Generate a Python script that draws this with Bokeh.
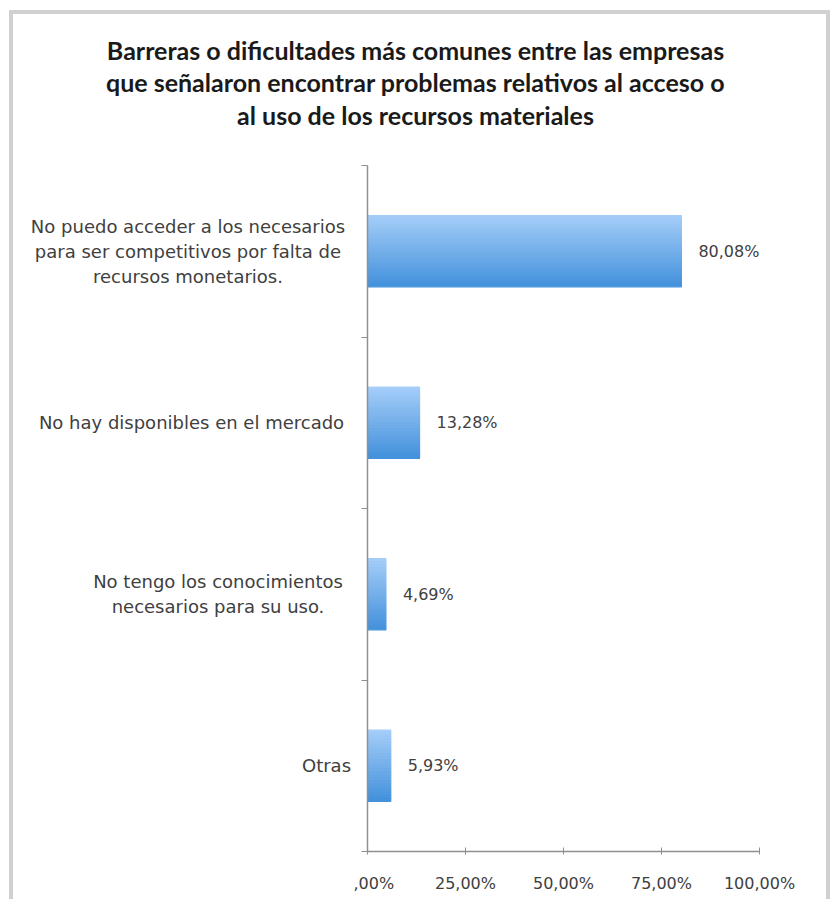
from bokeh.plotting import figure
from bokeh.models import FixedTicker, ColumnDataSource, Range1d
from bokeh.layouts import column, row
from bokeh.embed import file_html
from bokeh.resources import INLINE
from bokeh.core.properties import value

# ---- data ----
categories = [
    "No puedo acceder a los necesarios\npara ser competitivos por falta de\nrecursos monetarios.",
    "No hay disponibles en el mercado",
    "No tengo los conocimientos\nnecesarios para su uso.",
    "Otras",
]
values = [80.08, 13.28, 4.69, 5.93]
value_labels = ["80,08%", "13,28%", "4,69%", "5,93%"]
x_ticks = [0, 25, 50, 75, 100]
x_tick_labels = [",00%", "25,00%", "50,00%", "75,00%", "100,00%"]
title_text = ("Barreras o dificultades más comunes entre las empresas\n"
              "que señalaron encontrar problemas relativos al acceso o\n"
              "al uso de los recursos materiales")

# ---- layout / style ----
label_block_centers = [174.5, 178, 204.5, 313]   # horizontal centre of each label block (px)
CW = 813            # content width
TH = 141            # title strip height
RH = 744            # chart row height
LW = 340            # category label strip width
MBT, MBB = 10, RH - 10 - 686
font_lbl = "DejaVu Sans"
txt_col = "#404040"

n = len(categories)
centers = [n - 0.5 - i for i in range(n)]  # top category first
yr = Range1d(0, n)

def bare(fig):
    fig.outline_line_color = None
    fig.grid.grid_line_color = None
    fig.axis.visible = False
    fig.background_fill_color = "white"
    fig.border_fill_color = "white"

# title strip
tfig = figure(width=CW, height=TH, output_backend="svg", toolbar_location=None,
              x_range=Range1d(0, CW), y_range=Range1d(0, TH), min_border=0)
bare(tfig)
tfig.text(x=[402], y=[73], text=[title_text], text_align="center", text_baseline="middle",
          text_font=value("Lato"), text_font_style="bold", text_font_size="25px",
          text_color="#1a1a1a", text_line_height=1.08)

# category label strip
lfig = figure(width=LW, height=RH, output_backend="svg", toolbar_location=None,
              x_range=Range1d(0, LW), y_range=yr, min_border_left=0, min_border_right=0,
              min_border_top=MBT, min_border_bottom=MBB)
bare(lfig)
lfig.text(x=label_block_centers, y=centers, text=categories, text_align="center",
          text_baseline="middle", text_font=value(font_lbl), text_font_size="18px",
          text_color=txt_col, text_line_height=1.2)

# main chart
PW = CW - LW
MBL = 14
p = figure(width=PW, height=RH, output_backend="svg", toolbar_location=None,
           x_range=Range1d(0, 100), y_range=yr,
           min_border_left=MBL, min_border_right=PW - MBL - 392,
           min_border_top=MBT, min_border_bottom=MBB)
p.outline_line_color = None
p.grid.grid_line_color = None
p.background_fill_color = "white"
p.border_fill_color = "white"

# gradient bars built from thin overlapping strips
bar_h = 0.415
steps = 24
top_rgb = (0xA3, 0xCD, 0xF8)
bot_rgb = (0x45, 0x92, 0xDC)
for k in range(steps):
    t = k / (steps - 1)
    col = "#%02x%02x%02x" % tuple(int(round(a + (b - a) * t)) for a, b in zip(top_rgb, bot_rgb))
    sh = bar_h / steps
    ys = [c + bar_h / 2 - (k + 0.5) * sh for c in centers]
    p.hbar(y=ys, left=0, right=values, height=sh,
           fill_color=col, line_color=col, line_width=1.2)

src = ColumnDataSource(dict(x=values, y=centers, t=value_labels))
p.text(x="x", y="y", text="t", source=src, x_offset=17,
       text_baseline="middle", text_align="left",
       text_font=value(font_lbl), text_font_size="16px", text_color=txt_col)

# x axis
xa = p.xaxis[0]
xa.ticker = FixedTicker(ticks=x_ticks)
xa.major_label_overrides = {t: l for t, l in zip(x_ticks, x_tick_labels)}
xa.axis_line_color = "#8f8f8f"
xa.axis_line_width = 1.5
xa.major_tick_line_color = "#8f8f8f"
xa.major_tick_in = 4
xa.major_tick_out = 3
xa.minor_tick_line_color = None
xa.major_label_standoff = 19
xa.major_label_text_font = font_lbl
xa.major_label_text_font_size = "16px"
xa.major_label_text_color = txt_col

# y axis (labels drawn in the strip to the left)
ya = p.yaxis[0]
ya.ticker = FixedTicker(ticks=[], minor_ticks=list(range(n + 1)))
ya.axis_line_color = "#8f8f8f"
ya.axis_line_width = 1.5
ya.major_tick_line_color = None
ya.major_tick_in = 0
ya.major_tick_out = 0
ya.major_label_standoff = 0
ya.major_label_text_font_size = "0px"
ya.minor_tick_line_color = "#8f8f8f"
ya.minor_tick_in = 0
ya.minor_tick_out = 6

layout = column(tfig, row(lfig, p),
                styles={"border": "4px solid #d0d0d0", "border-bottom": "none",
                        "margin-left": "9px", "margin-top": "10px",
                        "background-color": "white"})

open("out.html", "w").write(file_html(layout, INLINE))
